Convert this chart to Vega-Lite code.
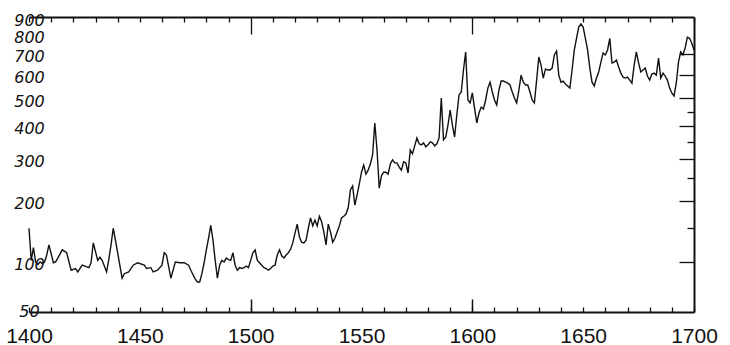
{
  "$schema": "https://vega.github.io/schema/vega-lite/v6.json",
  "width": 665,
  "height": 295,
  "autosize": {"type": "none"},
  "padding": {"left": 29, "top": 17, "right": 36, "bottom": 33},
  "background": "white",
  "config": {"view": {"stroke": null}, "axis": {"grid": false}},
  "data": {"values": [
    {"year":1400,"price":149},{"year":1401,"price":102},{"year":1402,"price":119},{"year":1403,"price":100},{"year":1404,"price":97},{"year":1405,"price":100},{"year":1406,"price":98},{"year":1407,"price":100},{"year":1408,"price":109},{"year":1409,"price":123},
    {"year":1411,"price":99},{"year":1412,"price":100},{"year":1413,"price":105},{"year":1415,"price":116},{"year":1417,"price":112},{"year":1419,"price":90},{"year":1421,"price":92},{"year":1422,"price":88},{"year":1424,"price":96},{"year":1427,"price":93},{"year":1428,"price":99},{"year":1429,"price":126},
    {"year":1431,"price":102},{"year":1432,"price":106},{"year":1433,"price":102},{"year":1435,"price":88},{"year":1436,"price":103},{"year":1437,"price":123},{"year":1438,"price":149},{"year":1439,"price":130},{"year":1440,"price":112},
    {"year":1442,"price":81},{"year":1443,"price":86},{"year":1445,"price":88},{"year":1447,"price":96},{"year":1449,"price":99},{"year":1452,"price":96},{"year":1453,"price":92},{"year":1455,"price":93},{"year":1456,"price":88},{"year":1458,"price":90},{"year":1460,"price":96},
    {"year":1461,"price":112},{"year":1462,"price":109},{"year":1464,"price":81},{"year":1466,"price":100},{"year":1468,"price":99},{"year":1470,"price":99},{"year":1472,"price":96},{"year":1473,"price":90},{"year":1475,"price":80},{"year":1476,"price":77},{"year":1477,"price":77},{"year":1478,"price":86},{"year":1479,"price":99},{"year":1480,"price":116},
    {"year":1481,"price":133},{"year":1482,"price":154},{"year":1483,"price":130},{"year":1484,"price":102},{"year":1485,"price":81},{"year":1486,"price":96},{"year":1487,"price":102},{"year":1488,"price":100},{"year":1489,"price":105},{"year":1490,"price":103},
    {"year":1491,"price":102},{"year":1492,"price":112},{"year":1493,"price":96},{"year":1494,"price":90},{"year":1495,"price":93},{"year":1496,"price":92},{"year":1497,"price":93},{"year":1498,"price":95},{"year":1499,"price":93},{"year":1500,"price":102},
    {"year":1501,"price":112},{"year":1502,"price":116},{"year":1503,"price":102},{"year":1504,"price":99},{"year":1505,"price":96},{"year":1506,"price":93},{"year":1507,"price":92},{"year":1508,"price":90},{"year":1509,"price":92},{"year":1510,"price":95},
    {"year":1511,"price":96},{"year":1512,"price":109},{"year":1513,"price":116},{"year":1514,"price":108},{"year":1515,"price":105},{"year":1516,"price":109},{"year":1517,"price":112},{"year":1518,"price":117},{"year":1519,"price":126},{"year":1520,"price":141},
    {"year":1521,"price":156},{"year":1522,"price":135},{"year":1523,"price":127},{"year":1524,"price":126},{"year":1525,"price":130},{"year":1526,"price":149},{"year":1527,"price":167},{"year":1528,"price":153},{"year":1529,"price":163},{"year":1530,"price":153},
    {"year":1531,"price":170},{"year":1532,"price":160},{"year":1533,"price":143},{"year":1534,"price":123},{"year":1535,"price":156},{"year":1536,"price":143},{"year":1537,"price":127},{"year":1538,"price":133},{"year":1539,"price":143},{"year":1540,"price":153},
    {"year":1541,"price":167},{"year":1542,"price":170},{"year":1543,"price":174},{"year":1544,"price":186},{"year":1545,"price":223},{"year":1546,"price":232},{"year":1547,"price":191},{"year":1548,"price":212},{"year":1549,"price":236},{"year":1550,"price":265},
    {"year":1551,"price":283},{"year":1552,"price":260},{"year":1553,"price":270},{"year":1554,"price":286},{"year":1555,"price":311},{"year":1556,"price":410},{"year":1557,"price":325},{"year":1558,"price":227},{"year":1559,"price":256},{"year":1560,"price":265},
    {"year":1561,"price":265},{"year":1562,"price":260},{"year":1563,"price":286},{"year":1564,"price":297},{"year":1565,"price":289},{"year":1566,"price":289},{"year":1567,"price":278},{"year":1568,"price":270},{"year":1569,"price":292},{"year":1570,"price":289},
    {"year":1571,"price":263},{"year":1572,"price":325},{"year":1573,"price":314},{"year":1574,"price":337},{"year":1575,"price":361},{"year":1576,"price":343},{"year":1577,"price":340},{"year":1578,"price":346},{"year":1579,"price":334},{"year":1580,"price":340},
    {"year":1581,"price":349},{"year":1582,"price":346},{"year":1583,"price":337},{"year":1584,"price":343},{"year":1585,"price":361},{"year":1586,"price":502},{"year":1587,"price":355},{"year":1588,"price":364},{"year":1589,"price":403},{"year":1590,"price":456},
    {"year":1591,"price":403},{"year":1592,"price":364},{"year":1593,"price":438},{"year":1594,"price":514},{"year":1595,"price":526},{"year":1596,"price":621},{"year":1597,"price":708},{"year":1598,"price":494},{"year":1599,"price":483},{"year":1600,"price":522},
    {"year":1601,"price":463},{"year":1602,"price":410},{"year":1603,"price":445},{"year":1604,"price":467},{"year":1605,"price":460},{"year":1606,"price":494},{"year":1607,"price":542},{"year":1608,"price":567},{"year":1609,"price":526},{"year":1610,"price":494},
    {"year":1611,"price":475},{"year":1612,"price":534},{"year":1613,"price":572},{"year":1614,"price":572},{"year":1615,"price":567},{"year":1616,"price":563},{"year":1617,"price":555},{"year":1618,"price":526},{"year":1619,"price":502},{"year":1620,"price":483},
    {"year":1621,"price":534},{"year":1622,"price":598},{"year":1623,"price":567},{"year":1624,"price":555},{"year":1625,"price":555},{"year":1626,"price":526},{"year":1627,"price":494},{"year":1628,"price":483},{"year":1629,"price":576},{"year":1630,"price":683},
    {"year":1631,"price":644},{"year":1632,"price":585},{"year":1633,"price":626},{"year":1634,"price":621},{"year":1635,"price":621},{"year":1636,"price":630},{"year":1637,"price":693},{"year":1638,"price":713},{"year":1639,"price":598},{"year":1640,"price":567},
    {"year":1641,"price":572},{"year":1642,"price":559},{"year":1643,"price":551},{"year":1644,"price":542},{"year":1645,"price":621},{"year":1646,"price":718},{"year":1647,"price":779},{"year":1648,"price":841},{"year":1649,"price":859},{"year":1650,"price":841},
    {"year":1651,"price":779},{"year":1652,"price":718},{"year":1653,"price":630},{"year":1654,"price":567},{"year":1655,"price":551},{"year":1656,"price":585},{"year":1657,"price":612},{"year":1658,"price":658},{"year":1659,"price":703},{"year":1660,"price":693},
    {"year":1661,"price":718},{"year":1662,"price":779},{"year":1663,"price":654},{"year":1664,"price":658},{"year":1665,"price":668},{"year":1666,"price":635},{"year":1667,"price":607},{"year":1668,"price":589},{"year":1669,"price":585},{"year":1670,"price":589},
    {"year":1671,"price":576},{"year":1672,"price":563},{"year":1673,"price":644},{"year":1674,"price":708},{"year":1675,"price":654},{"year":1676,"price":612},{"year":1677,"price":621},{"year":1678,"price":630},{"year":1679,"price":594},{"year":1680,"price":576},
    {"year":1681,"price":603},{"year":1682,"price":607},{"year":1683,"price":598},{"year":1684,"price":678},{"year":1685,"price":585},{"year":1686,"price":607},{"year":1687,"price":594},{"year":1688,"price":576},{"year":1689,"price":542},{"year":1690,"price":522},
    {"year":1691,"price":510},{"year":1692,"price":563},{"year":1693,"price":658},{"year":1694,"price":708},{"year":1695,"price":693},{"year":1696,"price":728},{"year":1697,"price":785},{"year":1698,"price":779},{"year":1699,"price":753},{"year":1700,"price":718}
  ]},
  "layer": [
    {
      "mark": {"type": "line", "color": "#111111", "strokeWidth": 1.4, "interpolate": "linear"},
      "encoding": {
        "x": {"field": "year", "type": "quantitative",
          "scale": {"domain": [1400, 1700], "nice": false, "zero": false},
          "axis": {"orient": "bottom", "title": null,
            "values": [1400,1410,1420,1430,1440,1450,1460,1470,1480,1490,1500,1510,1520,1530,1540,1550,1560,1570,1580,1590,1600,1610,1620,1630,1640,1650,1660,1670,1680,1690,1700],
            "format": "d", "labelExpr": "datum.value % 50 == 0 ? datum.label : ''",
            "domain": true, "domainColor": "#111111", "domainWidth": 2,
            "ticks": true, "tickColor": "#111111", "tickWidth": 1.3, "tickSize": -5,
            "labelPadding": 18, "labelBaseline": "top", "labelFlush": false, "labelOverlap": false,
            "labelFont": "Liberation Sans", "labelFontSize": 21, "labelColor": "#111111", "grid": false}},
        "y": {"field": "price", "type": "quantitative",
          "scale": {"type": "pow", "exponent": 0.29, "domain": [50, 900], "nice": false, "zero": false},
          "axis": {"orient": "left", "title": null,
            "values": [50,100,200,300,400,500,600,700,800,900], "format": "d",
            "domain": false, "ticks": false, "labelPadding": 0, "labelAlign": "center", "labelBaseline": "middle",
            "labelOffset": {"condition": {"test": "datum.value == 50", "value": -1}, "value": 3},
            "labelFlush": false, "labelOverlap": false,
            "labelFont": "DejaVu Sans", "labelFontStyle": "italic", "labelFontSize": 16, "labelColor": "#111111", "grid": false}}
      }
    },
    {
      "mark": {"type": "line", "strokeOpacity": 0},
      "encoding": {
        "x": {"field": "year", "type": "quantitative",
          "scale": {"domain": [1400, 1700], "nice": false, "zero": false},
          "axis": {"orient": "top", "title": null, "labels": false,
            "values": [1400,1410,1420,1430,1440,1450,1460,1470,1480,1490,1500,1510,1520,1530,1540,1550,1560,1570,1580,1590,1600,1610,1620,1630,1640,1650,1660,1670,1680,1690,1700],
            "domain": true, "domainColor": "#111111", "domainWidth": 2,
            "ticks": true, "tickColor": "#111111", "tickWidth": 1.3,
            "tickSize": {"condition": {"test": "datum.value == 1500 || datum.value == 1600", "value": -17}, "value": -5},
            "grid": false}},
        "y": {"field": "price", "type": "quantitative",
          "scale": {"type": "pow", "exponent": 0.29, "domain": [50, 900], "nice": false, "zero": false},
          "axis": {"orient": "right", "title": null, "labels": false,
            "values": [100,150,200,250,300,350,400,450,500,600,700],
            "domain": true, "domainColor": "#111111", "domainWidth": 2,
            "ticks": true, "tickColor": "#111111", "tickWidth": 1.3,
            "tickSize": {"condition": {"test": "indexof([150,250,350,450], datum.value) >= 0", "value": -7}, "value": -15},
            "grid": false}}
      }
    },
    {
      "mark": {"type": "line", "strokeOpacity": 0},
      "encoding": {
        "x": {"field": "year", "type": "quantitative",
          "scale": {"domain": [1400, 1700], "nice": false, "zero": false},
          "axis": {"orient": "bottom", "title": null, "labels": false, "values": [1500, 1600],
            "domain": false, "ticks": true, "tickColor": "#111111", "tickWidth": 1.5, "tickSize": -13, "grid": false}},
        "y": {"field": "price", "type": "quantitative",
          "scale": {"type": "pow", "exponent": 0.29, "domain": [50, 900], "nice": false, "zero": false},
          "axis": null}
      }
    }
  ],
  "resolve": {"scale": {"x": "independent", "y": "independent"}, "axis": {"x": "independent", "y": "independent"}}
}
